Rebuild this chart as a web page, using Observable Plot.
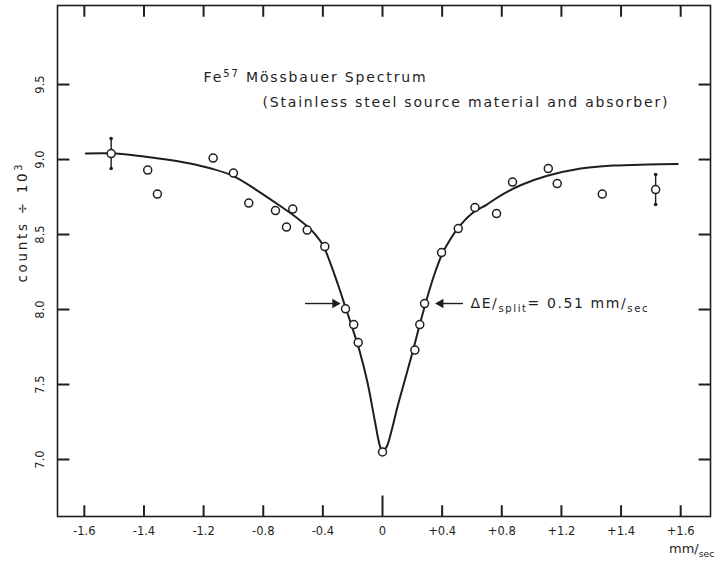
<!DOCTYPE html>
<html>
<head>
<meta charset="utf-8">
<script src="https://cdn.jsdelivr.net/npm/d3@7"></script>
<script src="https://cdn.jsdelivr.net/npm/@observablehq/plot@0.6"></script>
<style>
  html, body { margin: 0; padding: 0; background: #fff; }
  #chart svg { display: block; }
</style>
</head>
<body>
<div id="chart"></div>
<script>
// Measured counts (÷10³) against source velocity (mm/sec)
const velocity = [-1.82, -1.575, -1.51, -1.136, -1.0, -0.897, -0.718, -0.644, -0.602, -0.505, -0.387,
  -0.248, -0.193, -0.163, 0.0, 0.217, 0.25, 0.282, 0.396, 0.508, 0.62, 0.765, 0.872, 1.112, 1.172, 1.474, 1.832];
const counts = [9.04, 8.93, 8.77, 9.01, 8.91, 8.71, 8.66, 8.55, 8.67, 8.53, 8.42,
  8.005, 7.90, 7.78, 7.05, 7.73, 7.90, 8.04, 8.38, 8.54, 8.68, 8.64, 8.85, 8.94, 8.84, 8.77, 8.80];

// Statistical error bars on the two outermost points
const errVelocity = [-1.82, 1.832];
const errCounts = [9.04, 8.80];
const errHalf = [0.10, 0.10];

// Fitted absorption line
const fitVelocity = [-1.99, -1.80, -1.60, -1.45, -1.30, -1.15, -1.00, -0.85, -0.70, -0.60, -0.50, -0.45,
  -0.40, -0.35, -0.30, -0.25, -0.20, -0.15, -0.10, -0.05, -0.02, 0.0, 0.03, 0.06, 0.10, 0.15, 0.20,
  0.25, 0.30, 0.35, 0.40, 0.45, 0.50, 0.60, 0.70, 0.80, 0.93, 1.10, 1.33, 1.55, 1.78, 1.98];
const fitCounts = [9.04, 9.04, 9.02, 9.00, 8.975, 8.94, 8.89, 8.80, 8.70, 8.63, 8.55, 8.50,
  8.43, 8.31, 8.17, 8.02, 7.87, 7.71, 7.51, 7.25, 7.10, 7.05, 7.09, 7.19, 7.35, 7.53, 7.71,
  7.90, 8.08, 8.24, 8.37, 8.46, 8.535, 8.64, 8.70, 8.765, 8.83, 8.89, 8.94, 8.96, 8.967, 8.97];

// Axis ticks and their printed labels
const xTicks = [-2.0, -1.6, -1.2, -0.8, -0.4, 0, 0.4, 0.8, 1.2, 1.6, 2.0];
const xTickLabels = ["-1.6", "-1.4", "-1.2", "-0.8", "-0.4", "0", "+0.4", "+0.8", "+1.2", "+1.4", "+1.6"];
const yTicks = [7.0, 7.5, 8.0, 8.5, 9.0, 9.5];

// Half-maximum markers (ΔE split)
const halfLevel = 8.04;
const titleLine1 = "Fe^{57} Mössbauer Spectrum";
const titleLine2 = "(Stainless steel source material and absorber)";
const splitLabel = "ΔE/_{split}= 0.51 mm/_{sec}";
const yTitle = "counts ÷ 10^{3}";
const xTitle = "mm/_{sec}";

const points = velocity.map((v, i) => ({v, c: counts[i]}));
const errors = errVelocity.map((v, i) => ({v, lo: errCounts[i] - errHalf[i], hi: errCounts[i] + errHalf[i]}));
const fit = fitVelocity.map((v, i) => ({v, c: fitCounts[i]}));

const ink = "#1e1e1e";
const fmtX = d => xTickLabels[xTicks.indexOf(d)];

// scale extents and inward tick lengths (in axis units)
const xDomain = [-2.18, 2.20];
const yDomain = [6.62, 10.027];
const xTickLen = 0.075, xZeroTickLen = 0.14, yTickLen = 0.08;

// tick segments along the four frame edges
const bottomTicks = xTicks.map(v => ({v, a: yDomain[0], b: yDomain[0] + (v === 0 ? xZeroTickLen : xTickLen)}));
const topTicks = xTicks.map(v => ({v, a: yDomain[1], b: yDomain[1] - xTickLen}));
const leftTicks = yTicks.map(v => ({v, a: xDomain[0], b: xDomain[0] + yTickLen}));
const rightTicks = yTicks.map(v => ({v, a: xDomain[1], b: xDomain[1] - yTickLen}));

const chart = Plot.plot({
  width: 720,
  height: 569,
  marginLeft: 57,
  marginRight: 10,
  marginTop: 5,
  marginBottom: 53,
  style: {fontFamily: "DejaVu Sans, sans-serif", fontSize: "11.5px", color: ink},
  x: {domain: xDomain, ticks: xTicks, tickFormat: fmtX, tickSize: 0, tickPadding: 10, label: null},
  y: {domain: yDomain, ticks: yTicks, tickFormat: d3.format(".1f"), tickSize: 0, tickPadding: 14, tickRotate: -90, label: null},
  marks: [
    Plot.frame({stroke: ink, strokeWidth: 1.6}),
    // inward ticks on all four sides
    Plot.link(bottomTicks, {x1: "v", x2: "v", y1: "a", y2: "b", stroke: ink, strokeWidth: 2}),
    Plot.link(topTicks, {x1: "v", x2: "v", y1: "a", y2: "b", stroke: ink, strokeWidth: 2}),
    Plot.link(leftTicks, {y1: "v", y2: "v", x1: "a", x2: "b", stroke: ink, strokeWidth: 2}),
    Plot.link(rightTicks, {y1: "v", y2: "v", x1: "a", x2: "b", stroke: ink, strokeWidth: 2}),
    // axis titles
    Plot.text([yTitle], {frameAnchor: "left", y: () => 8.18, dx: -35, rotate: -90, fontSize: 13.5, fill: ink}),
    Plot.text([xTitle], {frameAnchor: "bottom-right", dx: 4, dy: 36, textAnchor: "end", fontSize: 13, fill: ink}),
    // title
    Plot.text([titleLine1], {x: -1.20, y: 9.55, textAnchor: "start", fontSize: 14, fill: ink}),
    Plot.text([titleLine2], {x: -0.805, y: 9.38, textAnchor: "start", fontSize: 14, fill: ink}),
    // fitted curve
    Plot.line(fit, {x: "v", y: "c", curve: "catmull-rom", stroke: ink, strokeWidth: 2}),
    // error bars
    Plot.ruleX(errors, {x: "v", y1: "lo", y2: "hi", stroke: ink, strokeWidth: 1.4}),
    Plot.dot(errors, {x: "v", y: "lo", r: 1.8, fill: ink}),
    Plot.dot(errors, {x: "v", y: "hi", r: 1.8, fill: ink}),
    // data points
    Plot.dot(points, {x: "v", y: "c", r: 4, stroke: ink, strokeWidth: 1.5, fill: "#fff"}),
    // half-width arrows and label
    Plot.link([{x1: -0.52, x2: -0.33}], {x1: "x1", x2: "x2", y1: () => halfLevel, y2: () => halfLevel, stroke: ink, strokeWidth: 1.4}),
    Plot.dot([-0.318], {x: d => d, y: () => halfLevel, symbol: "triangle", r: 3.6, rotate: 90, fill: ink}),
    Plot.link([{x1: 0.54, x2: 0.40}], {x1: "x1", x2: "x2", y1: () => halfLevel, y2: () => halfLevel, stroke: ink, strokeWidth: 1.4}),
    Plot.dot([0.39], {x: d => d, y: () => halfLevel, symbol: "triangle", r: 3.6, rotate: -90, fill: ink}),
    Plot.text([splitLabel], {x: 0.59, y: halfLevel, textAnchor: "start", fontSize: 14, fill: ink})
  ]
});

// lettering widths of the hand-set labels
const letterWidths = new Map([[titleLine1, 222], [titleLine2, 405], [splitLabel, 177], [yTitle, 118]]);

// turn _{..} and ^{..} into sub/superscripts, and stretch the lettered labels
function richText(svg) {
  d3.select(svg).selectAll("text").each(function() {
    const s = this.textContent;
    const el = d3.select(this);
    if (letterWidths.has(s)) el.attr("textLength", letterWidths.get(s)).attr("lengthAdjust", "spacing");
    if (!/[_^]\{/.test(s)) return;
    el.text(null);
    const re = /([_^])\{([^}]*)\}/g;
    let last = 0, m, shift = 0;
    while ((m = re.exec(s))) {
      if (m.index > last) el.append("tspan").attr("dy", -shift).text(s.slice(last, m.index)), shift = 0;
      const d = m[1] === "_" ? 4 : -5;
      el.append("tspan").attr("dy", d - shift).attr("font-size", "0.72em").text(m[2]);
      shift = d;
      last = re.lastIndex;
    }
    if (last < s.length) el.append("tspan").attr("dy", -shift).text(s.slice(last));
  });
}
richText(chart);

document.getElementById("chart").appendChild(chart);
</script>
</body>
</html>
